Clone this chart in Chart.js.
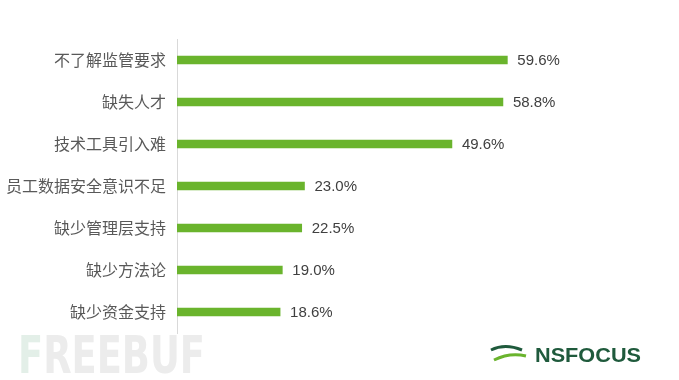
<!DOCTYPE html>
<html>
<head>
<meta charset="utf-8">
<script src="https://cdn.jsdelivr.net/npm/chart.js@4/dist/chart.umd.min.js"></script>
<style>
  html, body { margin: 0; padding: 0; background: #fff; }
  #wrap { width: 679px; height: 380px; }
</style>
</head>
<body>
<div id="wrap"><canvas id="barChart" width="679" height="380"></canvas></div>
<script>
// chart data
const categories = ['不了解监管要求', '缺失人才', '技术工具引入难', '员工数据安全意识不足', '缺少管理层支持', '缺少方法论', '缺少资金支持'];
const percentValues = [59.6, 58.8, 49.6, 23.0, 22.5, 19.0, 18.6];

// value labels at the end of each bar
const valueLabels = {
  id: 'valueLabels',
  afterDatasetsDraw(chart) {
    const c = chart.ctx;
    const meta = chart.getDatasetMeta(0);
    c.save();
    c.font = '15px "Liberation Sans", Arial, sans-serif';
    c.fillStyle = '#404040';
    c.textAlign = 'left';
    c.textBaseline = 'middle';
    meta.data.forEach((bar, i) => {
      c.fillText(percentValues[i].toFixed(1) + '%', bar.x + 10, bar.y + 1);
    });
    c.restore();
  }
};

// watermarks at the bottom
const watermarks = {
  id: 'watermarks',
  beforeDraw(chart) {
    const c = chart.ctx;
    c.save();
    // FREEBUF
    c.font = 'bold 52px "DejaVu Sans Condensed", "DejaVu Sans", sans-serif';
    c.textBaseline = 'alphabetic';
    const w = c.measureText('FREEBUF').width;
    c.translate(18, 373);
    c.scale(187 / w, 1);
    c.fillStyle = '#e3efe8';
    c.fillText('F', 0, 0);
    c.fillStyle = '#ececec';
    c.fillText('REEBUF', c.measureText('F').width, 0);
    c.restore();

    // NSFOCUS
    c.save();
    c.font = 'bold 21px "Liberation Sans", Arial, sans-serif';
    const w2 = c.measureText('NSFOCUS').width;
    c.translate(535, 362);
    c.scale(106 / w2, 1);
    c.fillStyle = '#1f5a3c';
    c.fillText('NSFOCUS', 0, 0);
    c.restore();

    // little flag mark
    c.save();
    c.strokeStyle = '#1f5a3c';
    c.lineWidth = 3;
    c.beginPath();
    c.moveTo(491, 350); c.quadraticCurveTo(505, 343, 522, 350);
    c.stroke();
    c.strokeStyle = '#6ab42d';
    c.beginPath();
    c.moveTo(494, 360); c.quadraticCurveTo(510, 352, 526, 356);
    c.stroke();
    c.restore();
  }
};

const ctx = document.getElementById('barChart').getContext('2d');
const barChart = new Chart(ctx, {
  type: 'bar',
  data: {
    labels: categories,
    datasets: [{
      data: percentValues,
      backgroundColor: '#6ab42d',
      borderWidth: 0,
      barThickness: 8
    }]
  },
  options: {
    indexAxis: 'y',
    responsive: false,
    animation: false,
    layout: { padding: { top: 39, bottom: 47, left: 0, right: 114 } },
    plugins: {
      legend: { display: false },
      tooltip: { enabled: false }
    },
    scales: {
      x: {
        display: false,
        min: 0,
        max: 70
      },
      y: {
        afterFit(scale) { scale.width = 177; },
        grid: { display: false, drawTicks: false },
        border: { display: true, color: '#d9d9d9', width: 1 },
        ticks: {
          padding: 11,
          color: '#595959',
          font: { size: 16, family: '"Noto Sans CJK SC", sans-serif' }
        }
      }
    }
  },
  plugins: [valueLabels, watermarks]
});
</script>
</body>
</html>
